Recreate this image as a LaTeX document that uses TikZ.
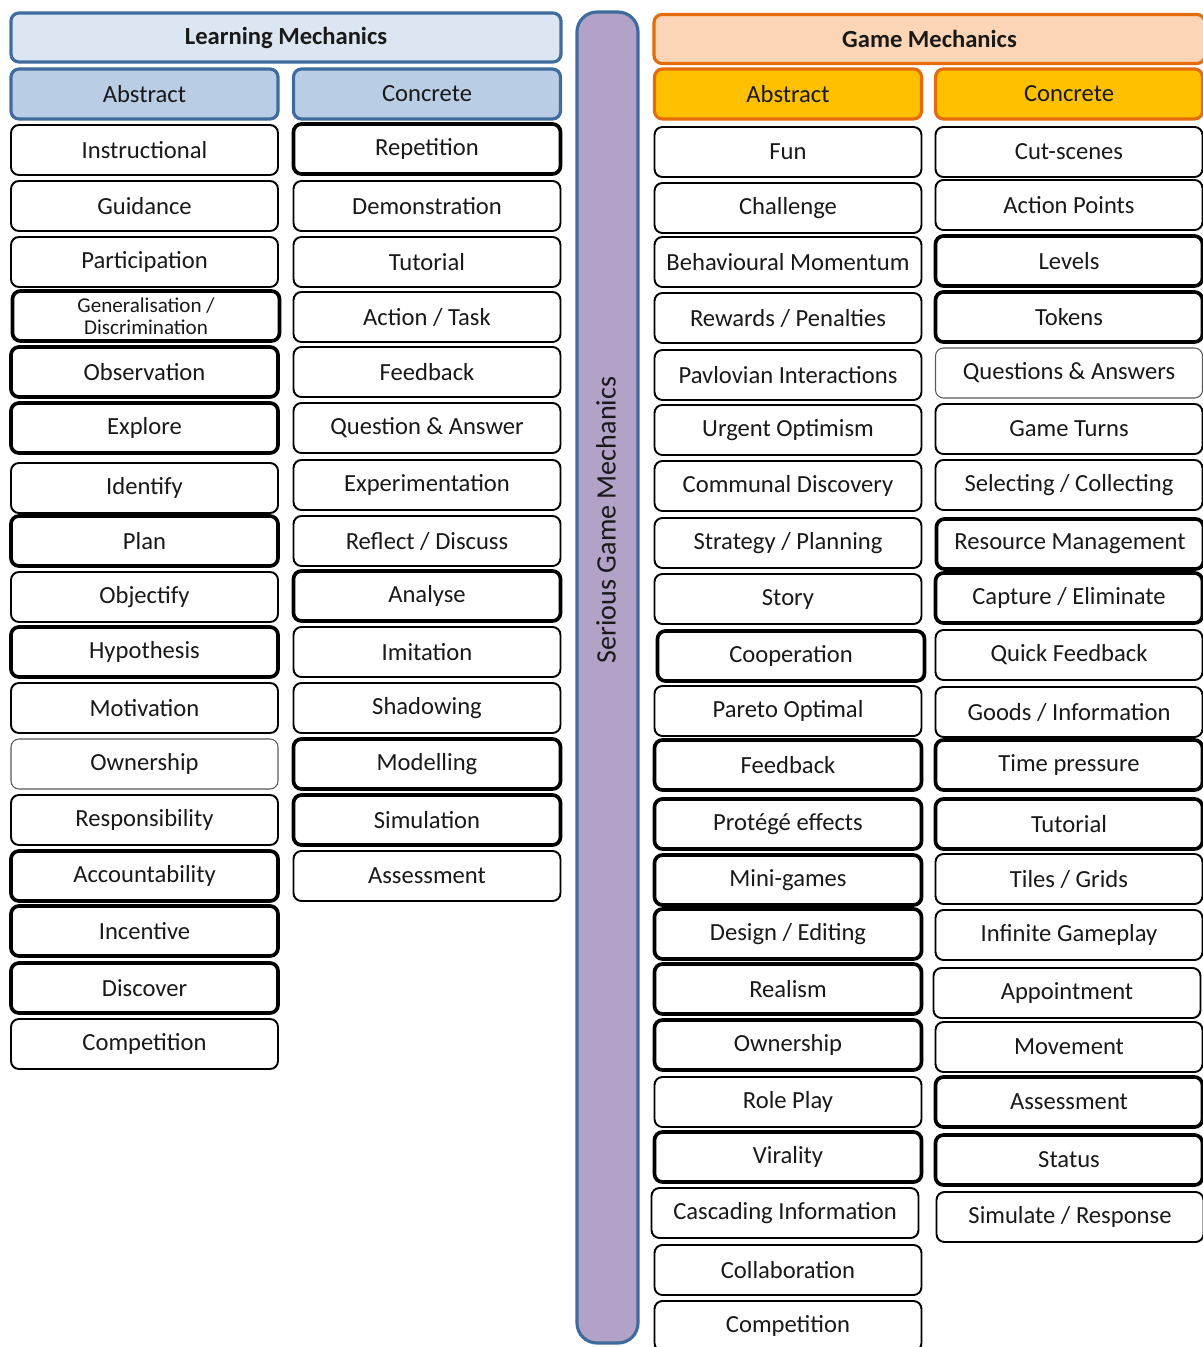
\documentclass[tikz,border=0pt]{standalone}
\usepackage{fontspec}
\setmainfont{Carlito}
\usepackage{xcolor}

\definecolor{lmfill}{HTML}{DCE6F2}
\definecolor{lmsub}{HTML}{B9CDE5}
\definecolor{lmline}{HTML}{3F6C9C}
\definecolor{gmfill}{HTML}{FBD5B5}
\definecolor{gmsub}{HTML}{FFC000}
\definecolor{gmline}{HTML}{E46C0A}
\definecolor{sgmfill}{HTML}{B3A2C7}

\tikzset{
  box/.style={draw=black, line width=1.1pt, fill=white, rounded corners=1.6mm,
    minimum width=53.4mm, minimum height=10mm, inner sep=0pt, text=black!90,
    font=\fontsize{14}{15}\selectfont},
  boldbox/.style={box, line width=2.1pt},
  lightbox/.style={box, draw=black!65, line width=0.6pt},
  lmhead/.style={box, draw=lmline, line width=1.8pt, fill=lmsub},
  gmhead/.style={box, draw=gmline, line width=1.8pt, fill=gmsub}
}

\begin{document}
\begin{tikzpicture}[x=0.2mm, y=-0.2mm]
        \useasboundingbox (0,0) rectangle (1202,1347);
        % titles
        \node[lmhead, fill=lmfill, minimum width=110mm, minimum height=9.8mm,
              font=\fontsize{14}{15}\selectfont\bfseries] (lm) at (286, 37.5) {Learning Mechanics};
        \node[gmhead, fill=gmfill, minimum width=110.2mm, minimum height=9.8mm,
              font=\fontsize{14}{15}\selectfont\bfseries] (gm) at (929.5, 39) {Game Mechanics};
        \node[lmhead] (lmA) at (144.5, 94) {Abstract};
        \node[lmhead] (lmC) at (427, 94) {Concrete};
        \node[gmhead] (gmA) at (788, 94) {Abstract};
        \node[gmhead] (gmC) at (1069, 94) {Concrete};
        % middle bar
        \draw[draw=lmline, fill=sgmfill, line width=1.8pt, rounded corners=4mm] (577, 12) rectangle (638, 1343);
        \node[rotate=90, text=black!90, font=\fontsize{16}{18}\selectfont] (sgm) at (606, 520) {Serious Game Mechanics};
        % learning mechanics, abstract
        \node[box] (la1) at (144.5, 150) {Instructional};
        \node[box] (la2) at (144.5, 206) {Guidance};
        \node[box] (la3) at (144.5, 262) {Participation};
        \node[boldbox, align=center, font=\fontsize{12}{12.5}\selectfont] (la4) at (146, 316) {Generalisation /\\Discrimination};
        \node[boldbox] (la5) at (144.5, 372) {Observation};
        \node[boldbox] (la6) at (144.5, 428) {Explore};
        \node[box] (la7) at (144.5, 488) {Identify};
        \node[boldbox] (la8) at (144.5, 541) {Plan};
        \node[box] (la9) at (144.5, 597) {Objectify};
        \node[boldbox] (la10) at (144.5, 652) {Hypothesis};
        \node[box] (la11) at (144.5, 708) {Motivation};
        \node[lightbox] (la12) at (144.5, 764) {Ownership};
        \node[box] (la13) at (144.5, 820) {Responsibility};
        \node[boldbox] (la14) at (144.5, 876) {Accountability};
        \node[boldbox] (la15) at (144.5, 931) {Incentive};
        \node[boldbox] (la16) at (144.5, 988) {Discover};
        \node[box] (la17) at (144.5, 1044) {Competition};
        % learning mechanics, concrete
        \node[boldbox] (lc1) at (427, 149) {Repetition};
        \node[box] (lc2) at (427, 206) {Demonstration};
        \node[box] (lc3) at (427, 262) {Tutorial};
        \node[box] (lc4) at (427, 317) {Action / Task};
        \node[box] (lc5) at (427, 372) {Feedback};
        \node[box] (lc6) at (427, 428) {Question \& Answer};
        \node[box] (lc7) at (427, 485) {Experimentation};
        \node[box] (lc8) at (427, 541) {Reflect / Discuss};
        \node[boldbox] (lc9) at (427, 596) {Analyse};
        \node[box] (lc10) at (427, 652) {Imitation};
        \node[box] (lc11) at (427, 708) {Shadowing};
        \node[boldbox] (lc12) at (427, 764) {Modelling};
        \node[boldbox] (lc13) at (427, 820) {Simulation};
        \node[box] (lc14) at (427, 876) {Assessment};
        % game mechanics, abstract
        \node[box] (ga1) at (788, 152) {Fun};
        \node[box] (ga2) at (788, 208) {Challenge};
        \node[box] (ga3) at (788, 262) {Behavioural Momentum};
        \node[box] (ga4) at (788, 318) {Rewards / Penalties};
        \node[box] (ga5) at (788, 375) {Pavlovian Interactions};
        \node[box] (ga6) at (788, 430) {Urgent Optimism};
        \node[box] (ga7) at (788, 486) {Communal Discovery};
        \node[box] (ga8) at (788, 543) {Strategy / Planning};
        \node[box] (ga9) at (788, 599) {Story};
        \node[boldbox] (ga10) at (791, 656) {Cooperation};
        \node[box] (ga11) at (788, 711) {Pareto Optimal};
        \node[boldbox] (ga12) at (788, 765) {Feedback};
        \node[boldbox] (ga13) at (788, 824) {Protégé effects};
        \node[boldbox] (ga14) at (788, 880) {Mini-games};
        \node[boldbox] (ga15) at (788, 934) {Design / Editing};
        \node[boldbox] (ga16) at (788, 989) {Realism};
        \node[boldbox] (ga17) at (788, 1045) {Ownership};
        \node[box] (ga18) at (788, 1102) {Role Play};
        \node[boldbox] (ga19) at (788, 1157) {Virality};
        \node[box] (ga20) at (785, 1213) {Cascading Information};
        \node[box] (ga21) at (788, 1270) {Collaboration};
        \node[box] (ga22) at (788, 1326) {Competition};
        % game mechanics, concrete
        \node[box] (gc1) at (1069, 152) {Cut-scenes};
        \node[box] (gc2) at (1069, 205) {Action Points};
        \node[boldbox] (gc3) at (1069, 261) {Levels};
        \node[boldbox] (gc4) at (1069, 317) {Tokens};
        \node[lightbox] (gc5) at (1069, 373) {Questions \& Answers};
        \node[box] (gc6) at (1069, 429) {Game Turns};
        \node[box] (gc7) at (1069, 485) {Selecting / Collecting};
        \node[boldbox] (gc8) at (1070, 544) {Resource Management};
        \node[boldbox] (gc9) at (1069, 598) {Capture / Eliminate};
        \node[box] (gc10) at (1069, 655) {Quick Feedback};
        \node[box] (gc11) at (1069, 712) {Goods / Information};
        \node[boldbox] (gc12) at (1069, 765) {Time pressure};
        \node[boldbox] (gc13) at (1069, 824) {Tutorial};
        \node[box] (gc14) at (1069, 879) {Tiles / Grids};
        \node[box] (gc15) at (1069, 935) {Infinite Gameplay};
        \node[box] (gc16) at (1067, 993) {Appointment};
        \node[box] (gc17) at (1069, 1047) {Movement};
        \node[boldbox] (gc18) at (1069, 1102) {Assessment};
        \node[boldbox] (gc19) at (1069, 1160) {Status};
        \node[box] (gc20) at (1070, 1217) {Simulate / Response};
\end{tikzpicture}
\end{document}
